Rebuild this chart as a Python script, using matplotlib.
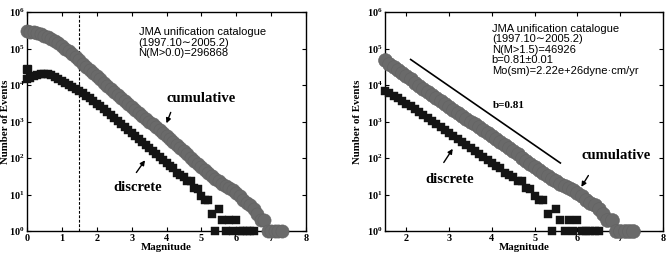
import numpy as np
import matplotlib
matplotlib.use("Agg")
import matplotlib.pyplot as plt
from matplotlib.ticker import FixedLocator, FuncFormatter, NullLocator

plt.rcParams['mathtext.fontset'] = 'custom'
plt.rcParams['mathtext.rm'] = 'Liberation Serif:bold'
plt.rcParams['mathtext.it'] = 'Liberation Serif:bold'
plt.rcParams['mathtext.bf'] = 'Liberation Serif:bold'
plt.rcParams['mathtext.default'] = 'rm'

# ---------------- data ----------------
magnitudes = np.round(np.arange(0.0, 7.31, 0.1), 1)

cumulative = [296868, 288000, 276000, 262000, 246000, 226000, 205000, 183000, 160000, 138000,
              118000, 100000, 85000, 71000, 58000, 46926, 38500, 31500, 25800, 21000,
              17300, 14200, 11700, 9600, 7900, 6500, 5350, 4450, 3650, 3020,
              2500, 2080, 1730, 1440, 1200, 1000, 830, 690, 575, 475,
              395, 330, 270, 225, 185, 152, 125, 102, 84, 69,
              56, 47, 39, 32, 27, 23, 20, 17, 15, 13,
              11, 9, 7, 6, 5, 4, 3, 2, 2, 1,
              1, 1, 1, 1]

nan = np.nan
discrete = [15000, 16000, 17500, 18800, 19800, 20300, 20000, 19000, 17000, 15000,
            13000, 11500, 10000, 8800, 7800, 6900, 6000, 5100, 4300, 3700,
            3100, 2600, 2200, 1800, 1500, 1250, 1030, 850, 700, 580,
            480, 400, 330, 280, 230, 190, 155, 130, 108, 90,
            75, 60, 52, 40, 35, 30, 24, 24, 15, 14,
            9, 7, 7, 3, 1, 4, 2, 1, 2, 1,
            2, 1, 1, 1, 1, 1, nan, nan, nan, nan,
            nan, nan, nan, nan]

# extra discrete bin plotted at M = 0 (events at M <= 0)
discrete_extra_m = [0.0]
discrete_extra_n = [27000]

b_line_m = [2.1, 5.6]
b_line_n = [50000, 73]

left_text = "JMA unification catalogue\n(1997.10\u223c2005.2)\nN(M>0.0)=296868"
right_text = ("JMA unification catalogue\n(1997.10\u223c2005.2)\nN(M>1.5)=46926\n"
              "b=0.81\u00b10.01\nMo(sm)=2.22e+26dyne\u00b7cm/yr")

# ---------------- figure ----------------
fig = plt.figure(figsize=(6.69, 2.54), dpi=100)
axL = fig.add_axes([27/669, 23/254, 279/669, 219/254])
axR = fig.add_axes([385/669, 23/254, 278/669, 219/254])

mags = np.array(magnitudes)
cum = np.array(cumulative, dtype=float)
dis = np.array(discrete, dtype=float)

circ_face = '#6a6a6a'
circ_edge = '#626262'
sq_col = '#141414'

serif = 'Liberation Serif'
sans_fam = ['Liberation Sans', 'DejaVu Sans']


def style_axes(ax, xmin, xticks, ylab_x):
    ax.set_yscale('log')
    ax.set_ylim(1, 1e6)
    ax.set_xlim(xmin, 8)
    ax.xaxis.set_major_locator(FixedLocator(xticks))
    ax.yaxis.set_major_locator(FixedLocator([1, 10, 100, 1e3, 1e4, 1e5, 1e6]))
    ax.yaxis.set_minor_locator(NullLocator())
    ax.yaxis.set_major_formatter(FuncFormatter(lambda v, p: r'$\mathbf{10^{%d}}$' % int(round(np.log10(v)))))
    ax.xaxis.set_major_formatter(FuncFormatter(lambda v, p: '%d' % int(round(v))))
    ax.tick_params(axis='both', which='both', direction='in', top=True, right=True,
                   length=3, width=0.8, labelsize=7.3, pad=2)
    for lab in ax.get_xticklabels():
        lab.set_fontfamily(serif)
        lab.set_fontweight('bold')
    for sp in ax.spines.values():
        sp.set_linewidth(1.0)
        sp.set_color('black')
    ax.set_xlabel('Magnitude', fontfamily=serif, fontweight='bold', fontsize=7.8)
    ax.xaxis.set_label_coords(0.5, -0.055)
    ax.xaxis.label.set_va('top')
    ax.set_ylabel('Number of Events', fontfamily=serif, fontweight='bold', fontsize=7.8)
    ax.yaxis.set_label_coords(ylab_x, 0.5)


# ---- left panel ----
style_axes(axL, 0, [0, 1, 2, 3, 4, 5, 6, 7, 8], -0.062)
axL.axvline(1.5, color='black', linestyle=(0, (2.5, 1.5)), linewidth=0.8)
axL.plot(mags, dis, linestyle='none', marker='s', markersize=5.8, color=sq_col,
         markeredgecolor=sq_col, markeredgewidth=0.3, clip_on=False, zorder=3)
axL.plot(discrete_extra_m, discrete_extra_n, linestyle='none', marker='s', markersize=5.8,
         color=sq_col, clip_on=False, zorder=3)
axL.plot(mags, cum, linestyle='none', marker='o', markersize=9.5, color=circ_face,
         markeredgecolor=circ_edge, markeredgewidth=0.4, clip_on=False, zorder=4)
axL.text(0.40, 0.93, left_text, transform=axL.transAxes, ha='left', va='top',
         family=sans_fam, fontsize=8, linespacing=1.05)
axL.text(0.50, 0.603, 'cumulative', transform=axL.transAxes, ha='left', va='center',
         fontfamily=serif, fontweight='bold', fontsize=10.5)
axL.annotate('', xy=(3.97, 10**2.88), xytext=(4.15, 10**3.32),
             arrowprops=dict(arrowstyle='-|>', color='black', lw=1.0, mutation_scale=7))
axL.text(0.308, 0.20, 'discrete', transform=axL.transAxes, ha='left', va='center',
         fontfamily=serif, fontweight='bold', fontsize=10.5)
axL.annotate('', xy=(3.43, 10**2.0), xytext=(3.09, 10**1.54),
             arrowprops=dict(arrowstyle='-|>', color='black', lw=1.0, mutation_scale=7))

# ---- right panel ----
style_axes(axR, 1.5, [2, 3, 4, 5, 6, 7, 8], -0.083)
sel = mags >= 1.5
axR.plot(mags[sel], dis[sel], linestyle='none', marker='s', markersize=6.0, color=sq_col,
         markeredgecolor=sq_col, markeredgewidth=0.3, clip_on=False, zorder=3)
axR.plot(mags[sel], cum[sel], linestyle='none', marker='o', markersize=10.0, color=circ_face,
         markeredgecolor=circ_edge, markeredgewidth=0.4, clip_on=False, zorder=4)
axR.plot(b_line_m, b_line_n, color='black', linewidth=1.2)
axR.text(0.384, 0.945, right_text, transform=axR.transAxes, ha='left', va='top',
         family=sans_fam, fontsize=8, linespacing=1.05)
axR.text(0.388, 0.571, 'b=0.81', transform=axR.transAxes, ha='left', va='center',
         fontfamily=serif, fontweight='bold', fontsize=8)
axR.text(0.707, 0.347, 'cumulative', transform=axR.transAxes, ha='left', va='center',
         fontfamily=serif, fontweight='bold', fontsize=10.5)
axR.annotate('', xy=(1.5 + (580 - 385) / 42.8, 10**((231 - 189.3) / 36.4)),
             xytext=(1.5 + (590 - 385) / 42.8, 10**((231 - 173.3) / 36.4)),
             arrowprops=dict(arrowstyle='-|>', color='black', lw=1.0, mutation_scale=7))
axR.text(0.146, 0.233, 'discrete', transform=axR.transAxes, ha='left', va='center',
         fontfamily=serif, fontweight='bold', fontsize=10.5)
axR.annotate('', xy=(1.5 + (454.3 - 385) / 42.8, 10**((231 - 146.7) / 36.4)),
             xytext=(1.5 + (442.3 - 385) / 42.8, 10**((231 - 165) / 36.4)),
             arrowprops=dict(arrowstyle='-|>', color='black', lw=1.0, mutation_scale=7))

fig.savefig('out.png', dpi=100)
